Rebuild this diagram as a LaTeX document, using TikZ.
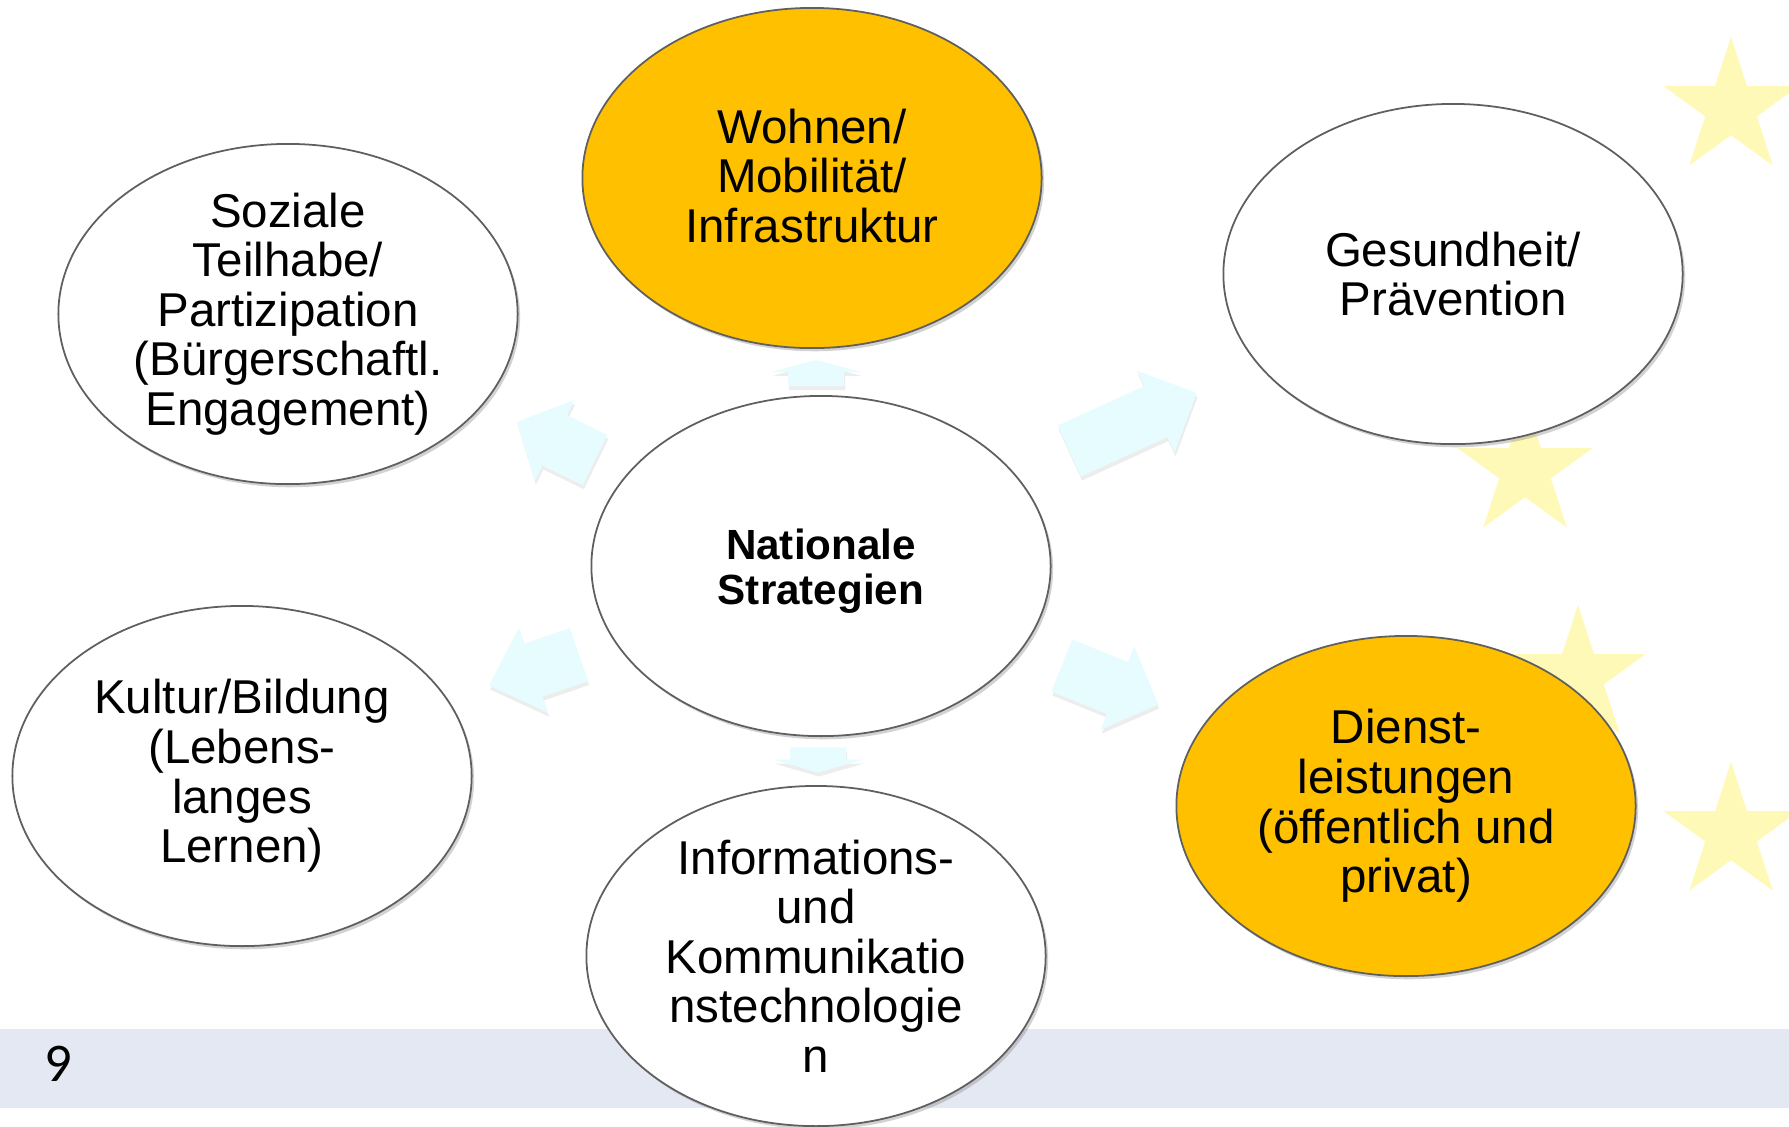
\documentclass[tikz,border=0pt]{standalone}
\usepackage{fontspec}
\setmainfont{Liberation Sans}
\newfontfamily\pagenumfont{Carlito}
\usetikzlibrary{shapes.geometric,shadows}

\definecolor{gold}{RGB}{255,192,0}
\definecolor{paleblue}{RGB}{230,252,255}
\definecolor{paleyellow}{RGB}{255,249,184}
\definecolor{barblue}{RGB}{228,232,243}
\definecolor{rimgray}{RGB}{95,95,95}

% block arrow: centre x, centre y, angle, length, head length
\newcommand{\blockarrow}[5]{%
	\fill[black,opacity=0.07,shift={(#1+1,#2+4)},rotate=#3] (-#4/2,-28) -- (#4/2-#5,-28) -- (#4/2-#5,-45) -- (#4/2,0) -- (#4/2-#5,45) -- (#4/2-#5,28) -- (-#4/2,28) -- cycle;
	\fill[paleblue,shift={(#1,#2)},rotate=#3] (-#4/2,-28) -- (#4/2-#5,-28) -- (#4/2-#5,-45) -- (#4/2,0) -- (#4/2-#5,45) -- (#4/2-#5,28) -- (-#4/2,28) -- cycle;
}

\begin{document}
\begin{tikzpicture}[x=0.01cm,y=-0.01cm,
	bubble/.style={ellipse,draw=rimgray,line width=0.5pt,fill=white,minimum width=4.59cm,minimum height=3.4cm,inner sep=0pt,
		drop shadow={opacity=0.35,shadow xshift=0.7pt,shadow yshift=-0.9pt}},
	goldbubble/.style={bubble,fill=gold},
	bubbletext/.style={align=center,inner sep=0pt,font=\fontsize{13.5}{14.1}\selectfont},
	euostar/.style={star,star points=5,star point ratio=2.618,minimum size=1.42cm,inner sep=0pt,fill=paleyellow}]
	\fill[white] (0,0) rectangle (1789,1126);
	\useasboundingbox (0,0) rectangle (1789,1126);
	\clip (0,0) rectangle (1789,1126);

	% footer bar and stars
	\fill[barblue] (0,1029) rectangle (1789,1108);
	\node[font=\pagenumfont\fontsize{15.5}{15.5}\selectfont] (pagenum) at (58,1064) {9};
	\node[euostar] (s1) at (1731,108) {};
	\node[euostar] (s2) at (1525,470) {};
	\node[euostar] (s3) at (1578,676) {};
	\node[euostar] (s4) at (1731,833) {};

	% arrows out of the centre
	\blockarrow{556}{441}{154}{87}{42}
	\blockarrow{1133}{422}{24.5}{140}{45}
	\blockarrow{534}{670}{199}{95}{47}
	\blockarrow{1110}{685}{-22}{104}{44}
	\blockarrow{816}{373}{90}{26}{12}
	\blockarrow{818}{760}{-90}{25}{13}

	% ellipses
	\node[bubble] (mid) at (821,566) {};
	\node[goldbubble] (wohnen) at (812,178) {};
	\node[bubble] (sozial) at (288,314) {};
	\node[bubble] (gesund) at (1453,274) {};
	\node[bubble] (kultur) at (242,776) {};
	\node[bubble] (ikt) at (816,956) {};
	\node[goldbubble] (dienst) at (1406,806) {};

	\node[bubbletext,font=\fontsize{12}{12.6}\selectfont\bfseries] (mid-t) at (821,571) {Nationale\\Strategien};
	\node[bubbletext] (wohnen-t) at (812,176) {Wohnen/\\Mobilität/\\Infrastruktur};
	\node[bubbletext] (sozial-t) at (sozial) {Soziale\\Teilhabe/\\Partizipation\\(Bürgerschaftl.\\Engagement)};
	\node[bubbletext] (gesund-t) at (gesund) {Gesundheit/\\Prävention};
	\node[bubbletext] (kultur-t) at (kultur) {Kultur/Bildung\\(Lebens-\\langes\\Lernen)};
	\node[bubbletext] (ikt-t) at (ikt) {Informations-\\und\\Kommunikatio\\nstechnologie\\n};
	\node[bubbletext] (dienst-t) at (dienst) {Dienst-\\leistungen\\(öffentlich und\\privat)};
\end{tikzpicture}
\end{document}
